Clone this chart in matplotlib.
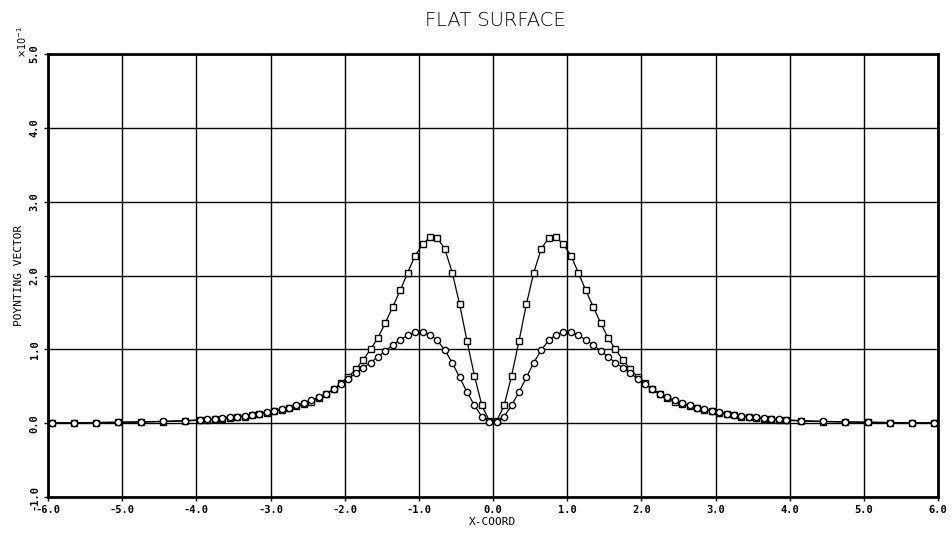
import matplotlib
matplotlib.use("Agg")
import matplotlib.pyplot as plt
import numpy as np

# x positions (positive half, mirrored for negative side)
x_half = [0.05, 0.15, 0.25, 0.35, 0.45, 0.55, 0.65, 0.75, 0.85, 0.95,
          1.05, 1.15, 1.25, 1.35, 1.45, 1.55, 1.65, 1.75, 1.85, 1.95,
          2.05, 2.15, 2.25, 2.35, 2.45, 2.55, 2.65, 2.75, 2.85, 2.95,
          3.05, 3.15, 3.25, 3.35, 3.45, 3.55, 3.65, 3.75, 3.85, 3.95,
          4.15, 4.45, 4.75, 5.05, 5.35, 5.65, 5.95]

# circle series (x10^-1)
circ_half = [0.02, 0.09, 0.24, 0.42, 0.62, 0.82, 0.99, 1.12, 1.20, 1.23,
             1.23, 1.19, 1.13, 1.06, 0.98, 0.90, 0.82, 0.75, 0.68, 0.60,
             0.53, 0.46, 0.40, 0.35, 0.31, 0.27, 0.24, 0.21, 0.19, 0.17,
             0.15, 0.13, 0.115, 0.10, 0.09, 0.08, 0.07, 0.06, 0.05, 0.045,
             0.035, 0.025, 0.018, 0.013, 0.009, 0.006, 0.004]

# square series (x10^-1)
sq_half = [0.03, 0.24, 0.64, 1.11, 1.61, 2.04, 2.36, 2.51, 2.52, 2.42,
           2.27, 2.04, 1.80, 1.58, 1.36, 1.16, 1.00, 0.86, 0.73, 0.63,
           0.54, 0.46, 0.39, 0.34, 0.29, 0.26, 0.23, 0.20, 0.18, 0.16,
           0.14, 0.12, 0.105, 0.09, 0.08, 0.07, 0.06, 0.05, 0.045, 0.04,
           0.03, 0.022, 0.016, 0.011, 0.008, 0.005, 0.003]

x_ticks = [-6, -5, -4, -3, -2, -1, 0, 1, 2, 3, 4, 5, 6]
y_ticks = [-1, 0, 1, 2, 3, 4, 5]

xh = np.array(x_half)
x_full = np.concatenate([-xh[::-1], xh])
circ = np.concatenate([np.array(circ_half)[::-1], circ_half])
sq = np.concatenate([np.array(sq_half)[::-1], sq_half])

fig = plt.figure(figsize=(9.52, 5.34), dpi=100)
ax = fig.add_axes([48/952, 1-497/534, (938-48)/952, (497-54)/534])

ax.plot(x_full, sq, color='black', lw=0.9, marker='s', ms=4.5,
        mfc='white', mec='black', mew=1.0, zorder=3)
ax.plot(x_full, circ, color='black', lw=0.9, marker='o', ms=4.5,
        mfc='white', mec='black', mew=1.0, zorder=3)

ax.set_xlim(-6, 6)
ax.set_ylim(-1, 5)
ax.set_xticks(x_ticks)
ax.set_yticks(y_ticks)
ax.set_xticklabels([f"{v:.1f}" for v in x_ticks], fontsize=7.5,
                   family='DejaVu Sans Mono', fontweight='bold')
ax.set_yticklabels([f"{v:.1f}" for v in y_ticks], fontsize=7.5,
                   family='DejaVu Sans Mono', fontweight='bold',
                   rotation=90, va='center')
ax.tick_params(axis='both', length=3, width=1, color='black', pad=3)
ax.grid(True, color='black', lw=1.0)
for s in ax.spines.values():
    s.set_linewidth(2.0)
    s.set_color('black')

ax.set_xlabel("X-COORD", fontsize=8, family='DejaVu Sans Mono', labelpad=1)
ax.set_ylabel("POYNTING VECTOR", fontsize=8, family='DejaVu Sans Mono',
              labelpad=4)
fig.text(0.52, 0.962, "FLAT SURFACE", ha='center', va='center',
         fontsize=14, family='DejaVu Sans', fontweight='light', color='black')
fig.text(22/952, 1-42/534, r"$\times10^{-1}$", rotation=90, ha='center',
         va='center', fontsize=7)

fig.savefig("out.png", dpi=100)
